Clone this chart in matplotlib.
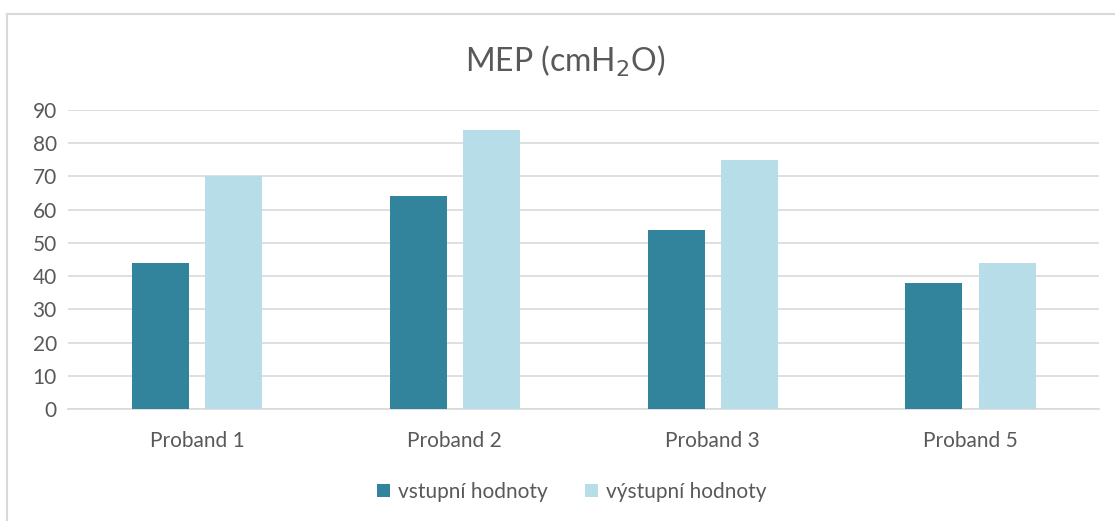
"""
MEP (cmH2O) - vstupní a výstupní hodnoty probandů
"""
import numpy as np
from matplotlib import pyplot as plt
from matplotlib.lines import Line2D

probandi = ['Proband 1', 'Proband 2', 'Proband 3', 'Proband 5']
vstupni = [44, 64, 54, 38]
vystupni = [70, 84, 75, 44]

TMAVA = '#31849b'
SVETLA = '#b7dde8'
SEDA_TEXT = '#595959'
SEDA_CARA = '#d9d9d9'


def main():
    plt.rcParams['font.family'] = ['Lato', 'DejaVu Sans']

    fig = plt.figure(figsize=(11.15, 5.21), dpi=100)
    ax = fig.add_axes([0.061, 0.215, 0.925, 0.574])

    x = np.arange(len(probandi))
    sirka = 0.221
    posun = 0.142
    ax.bar(x - posun, vstupni, sirka, color=TMAVA, label='vstupní hodnoty', zorder=3)
    ax.bar(x + posun, vystupni, sirka, color=SVETLA, label='výstupní hodnoty', zorder=3)

    ax.set_xlim(-0.5, len(probandi) - 0.5)
    ax.set_ylim(0, 90)
    ax.set_yticks(range(0, 91, 10))
    ax.set_xticks(x)
    ax.set_xticklabels(probandi)
    ax.grid(axis='y', color=SEDA_CARA, linewidth=1.2, zorder=0)
    for s in ['top', 'right', 'left']:
        ax.spines[s].set_visible(False)
    ax.spines['bottom'].set_color(SEDA_CARA)
    ax.spines['bottom'].set_linewidth(1.2)
    ax.tick_params(axis='both', length=0, labelsize=15, colors=SEDA_TEXT)
    ax.tick_params(axis='x', pad=16)
    ax.tick_params(axis='y', pad=8)

    fig.text(0.507, 0.883, r'MEP (cmH$_2$O)', ha='center', va='center',
             fontsize=23, color=SEDA_TEXT)

    fig.legend(loc='center', bbox_to_anchor=(0.513, 0.056), ncol=2, frameon=False,
               fontsize=15, labelcolor=SEDA_TEXT, handlelength=0.6, handleheight=0.6,
               handletextpad=0.4, columnspacing=1.8)

    # rámeček grafu
    fig.add_artist(Line2D([7 / 1115, 7 / 1115], [0, 1 - 14 / 521], color=SEDA_CARA,
                          linewidth=1.5, transform=fig.transFigure))
    fig.add_artist(Line2D([7 / 1115, 1], [1 - 14 / 521, 1 - 14 / 521], color=SEDA_CARA,
                          linewidth=1.5, transform=fig.transFigure))

    fig.savefig('out.png', dpi=100)


if __name__ == '__main__':
    main()
